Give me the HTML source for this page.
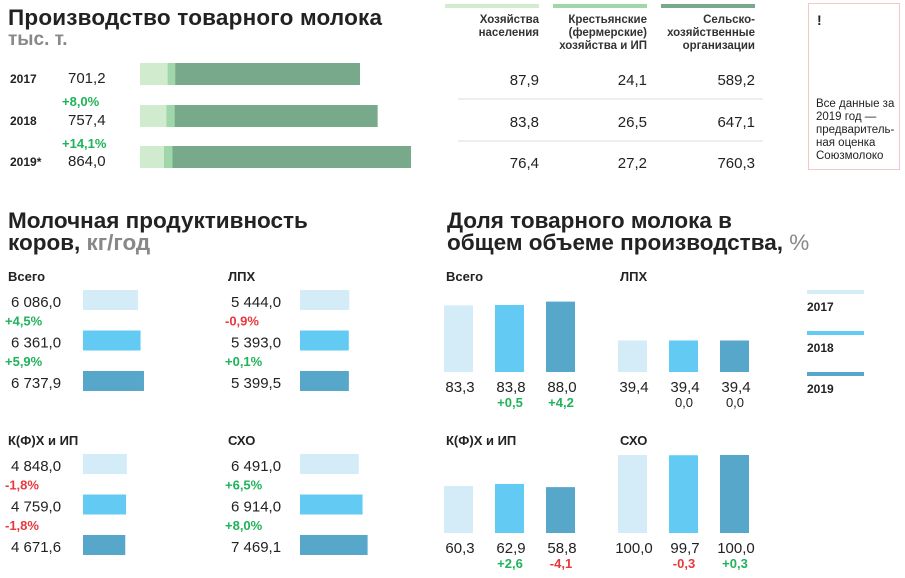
<!DOCTYPE html>
<html><head><meta charset="utf-8"><style>
body{margin:0;width:905px;height:578px;background:#fff;font-family:"Liberation Sans",sans-serif;color:#222;position:relative;overflow:hidden}
.a{position:absolute;white-space:nowrap}
.t{font-weight:bold;font-size:22.5px;color:#222;letter-spacing:0.2px}
.st{font-size:22.5px;font-weight:bold;line-height:22px}
.g{color:#888}
</style></head><body>
<div class="a t" style="left:8px;top:5px">Производство товарного молока</div>
<div class="a g" style="left:8px;top:29px;font-size:19px;font-weight:bold">тыс. т.</div>
<svg id="top" class="a" style="left:0;top:0" width="905" height="578"></svg>
<div class="a" style="left:808px;top:3px;width:92px;height:167px;border:1px solid #f2c8c8;box-sizing:border-box">
<div class="a" style="left:8px;top:8px;font-weight:bold;font-size:14px">!</div>
<div class="a" style="left:7px;top:94px;font-size:11.5px;line-height:13px;white-space:normal;width:84px">Все данные за 2019 год — предваритель-ная оценка Союзмолоко</div>
</div>
<div class="a st" style="left:8px;top:210px">Молочная продуктивность<br>коров, <span class="g">кг/год</span></div>
<div class="a st" style="left:447px;top:210px">Доля товарного молока в<br>общем объеме производства, <span class="g" style="font-weight:normal">%</span></div>
<script>
const years=['2017','2018','2019*'];
const totals=['701,2','757,4','864,0'];
const hh=[87.9,83.8,76.4];
const kfh=[24.1,26.5,27.2];
const sho=[589.2,647.1,760.3];
const growth=['+8,0%','+14,1%'];
const yieldGroups=['Всего','ЛПХ','К(Ф)Х и ИП','СХО'];
const yieldVals=[[6086.0,6361.0,6737.9],[5444.0,5393.0,5399.5],[4848.0,4759.0,4671.6],[6491.0,6914.0,7469.1]];
const yieldChg=[['+4,5%','+5,9%'],['-0,9%','+0,1%'],['-1,8%','-1,8%'],['+6,5%','+8,0%']];
const shareGroups=['Всего','ЛПХ','К(Ф)Х и ИП','СХО'];
const shareVals=[[83.3,83.8,88.0],[39.4,39.4,39.4],[60.3,62.9,58.8],[100.0,99.7,100.0]];
const shareChg=[['','+0,5','+4,2'],['','0,0','0,0'],['','+2,6','-4,1'],['','-0,3','+0,3']];
const NS='http://www.w3.org/2000/svg';
const svg=document.getElementById('top');
function el(tag,at,parent){const e=document.createElementNS(NS,tag);for(const k in at)e.setAttribute(k,at[k]);(parent||svg).appendChild(e);return e;}
function txt(x,y,s,at){const e=el('text',Object.assign({x:x,y:y,'font-family':'Liberation Sans, sans-serif'},at));e.textContent=s;return e;}
function fmt(v){let s=v.toFixed(1).replace('.',',');let [i,d]=s.split(',');if(i.length>3)i=i.slice(0,i.length-3)+' '+i.slice(-3);return i+','+d;}
function sign(c){return c.startsWith('-')?'#e8383d':'#1fb35a';}
const px=220/701.2, gcol=['#d1ebcf','#9fd7ab','#77a98a'];
const rowY=[63,105,146];
const cols=[445,553,661];
[0,1,2].forEach(i=>{
 const r=el('rect',{x:cols[i],y:4,width:94,height:4,fill:gcol[i]});
 
});
years.forEach((y,i)=>{
 const segs=[hh[i],kfh[i],sho[i]];let x=140;
 segs.forEach((v,j)=>{const w=v*px;const r=el('rect',{x:x,y:rowY[i],width:w,height:22,fill:gcol[j]});
  x+=w;});
 txt(10,rowY[i]+20,y,{'font-size':12,'font-weight':'bold',fill:'#222'});
 txt(68,rowY[i]+20,totals[i],{'font-size':15,fill:'#222'});
 segs.forEach((v,j)=>txt(cols[j]+94,rowY[i]+22,fmt(v),{'font-size':15,fill:'#222','text-anchor':'end'}));
 if(i<2){txt(62,rowY[i]+43,growth[i],{'font-size':13,'font-weight':'bold',fill:'#1fb35a'});
  el('line',{x1:458,x2:763,y1:rowY[i]+36,y2:rowY[i]+36,stroke:'#ddd'});}
});
const heads=[['Хозяйства','населения'],['Крестьянские','(фермерские)','хозяйства и ИП'],['Сельско-','хозяйственные','организации']];
heads.forEach((h,j)=>h.forEach((l,k)=>txt(cols[j]+94,23+k*13,l,{'font-size':11.5,'font-weight':'bold',fill:'#333','text-anchor':'end'})));
const bcol=['#d3ecf8','#63cbf3','#56a7c9'];
const yk=0.00905;
const gx=[[8,83],[228,300],[8,83],[228,300]], gy=[262,426];
yieldGroups.forEach((g,gi)=>{
 const [tx,bx]=gx[gi];const y0=gy[Math.floor(gi/2)];
 txt(tx,y0+19,g,{'font-size':13,'font-weight':'bold',fill:'#222'});
 yieldVals[gi].forEach((v,k)=>{
  const by=y0+28+k*40.5;
  const r=el('rect',{x:bx,y:by,width:v*yk,height:20,fill:bcol[k]});
  
  txt(tx+3,by+17,fmt(v),{'font-size':15,fill:'#222'});
  if(k>0){const c=yieldChg[gi][k-1];txt(tx-3,by-5,c,{'font-size':13,'font-weight':'bold',fill:sign(c)});}
 });
});
const sx=[[444,495,546],[618,669,720],[444,495,546],[618,669,720]], sb=[372,533], sy=[262,426];
shareGroups.forEach((g,gi)=>{
 const row=Math.floor(gi/2);const base=sb[row];
 txt(sx[gi][0]+2,sy[row]+19,g,{'font-size':13,'font-weight':'bold',fill:'#222'});
 shareVals[gi].forEach((v,k)=>{
  const h=v*(row?0.78:0.8);const x=sx[gi][k];
  const r=el('rect',{x:x,y:base-h,width:29,height:h,fill:bcol[k]});
  
  txt(x+16,base+20,fmt(v),{'font-size':15,fill:'#222','text-anchor':'middle'});
  const c=shareChg[gi][k];if(c)txt(x+15,base+35,c,{'font-size':13,'font-weight':c=='0,0'?'normal':'bold',fill:c=='0,0'?'#222':sign(c),'text-anchor':'middle'});
 });
});
['2017','2018','2019'].forEach((y,k)=>{
 const r=el('rect',{x:807,y:290+k*41,width:57,height:4,fill:bcol[k]});
 
 txt(807,311+k*41,y,{'font-size':12,'font-weight':'bold',fill:'#222'});
});
</script>
</body></html>
